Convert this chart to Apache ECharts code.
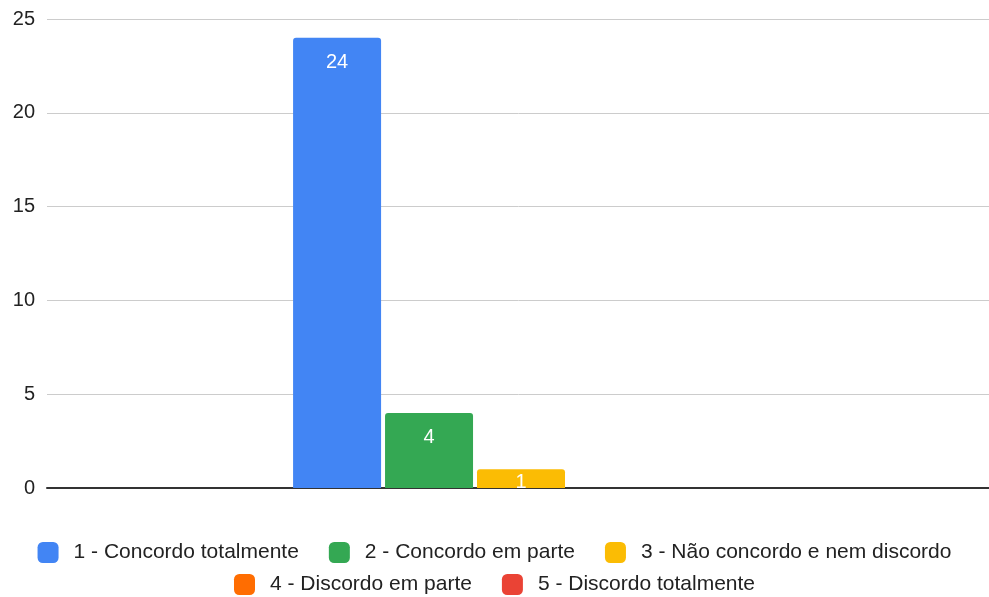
<!DOCTYPE html>
<html>
<head>
<meta charset="utf-8">
<style>
  html, body { margin: 0; padding: 0; background: #fff; }
  #chart { width: 989px; height: 597px; }
</style>
<script src="https://cdn.jsdelivr.net/npm/echarts@6/dist/echarts.min.js"></script>
</head>
<body>
<div id="chart"></div>
<script>
// Survey answers: one category, one series per answer option
const categories = [''];
const seriesNames = [
  '1 - Concordo totalmente',
  '2 - Concordo em parte',
  '3 - Não concordo e nem discordo',
  '4 - Discordo em parte',
  '5 - Discordo totalmente'
];
const seriesValues = [[24], [4], [1], [0], [0]];
const seriesColors = ['#4285f4', '#34a853', '#fbbc04', '#ff6d01', '#ea4335'];
const yTicks = [0, 5, 10, 15, 20, 25];

const font = 'Arial, "Liberation Sans", sans-serif';

const chart = echarts.init(document.getElementById('chart'), null, { renderer: 'canvas' });

// Short bars get their value label pulled up so it stays mostly inside the bar
const labelDistance = v => (v >= 3 ? 15 : 3);

const series = seriesNames.map((name, i) => ({
  name,
  type: 'bar',
  data: seriesValues[i],
  barWidth: 88,
  barGap: '4.5%',
  z: 3,
  itemStyle: { color: seriesColors[i], borderRadius: [3, 3, 0, 0] },
  label: {
    show: true,
    position: 'insideTop',
    distance: labelDistance(seriesValues[i][0]),
    color: '#ffffff',
    fontFamily: font,
    fontSize: 20,
    formatter: p => (p.value ? String(p.value) : '')
  }
}));

const legendCommon = {
  icon: 'roundRect',
  itemWidth: 21,
  itemHeight: 21,
  itemGap: 30,
  left: 'center',
  textStyle: { color: '#222', fontFamily: font, fontSize: 21, padding: [0, 0, 0, 10] }
};

chart.setOption({
  animation: false,
  backgroundColor: '#ffffff',
  grid: {
    left: 47, top: 19, width: 948, height: 469,
    containLabel: false,
    outerBoundsMode: 'none'
  },
  legend: [
    Object.assign({}, legendCommon, { top: 537, data: seriesNames.slice(0, 3) }),
    Object.assign({}, legendCommon, { top: 569, data: seriesNames.slice(3) })
  ],
  xAxis: {
    type: 'category',
    data: categories,
    z: 2,
    axisTick: { show: false },
    axisLabel: { show: false },
    axisLine: { show: true, lineStyle: { color: '#333', width: 2 } }
  },
  yAxis: {
    type: 'value',
    min: yTicks[0],
    max: yTicks[yTicks.length - 1],
    interval: 5,
    axisLine: { show: false },
    axisTick: { show: false },
    axisLabel: { color: '#222', fontFamily: font, fontSize: 20, margin: 12 },
    splitLine: { lineStyle: { color: '#cccccc', width: 1 } }
  },
  series
});
</script>
</body>
</html>
